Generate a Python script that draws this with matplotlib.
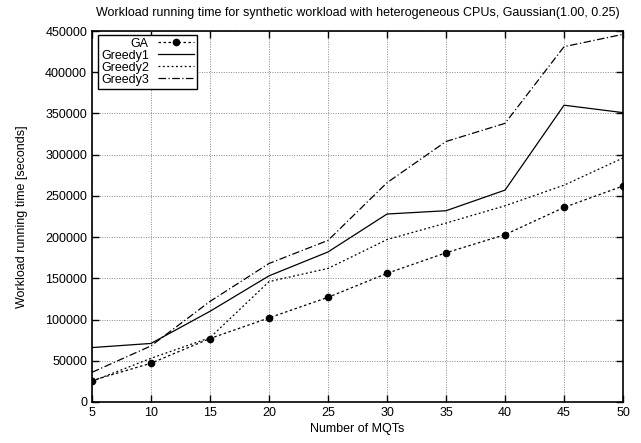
import matplotlib
matplotlib.use("Agg")
import matplotlib.pyplot as plt

mqts = [5, 10, 15, 20, 25, 30, 35, 40, 45, 50]
ga = [26000, 47000, 77000, 102000, 127000, 156000, 181000, 203000, 236000, 262000]
greedy1 = [66000, 71000, 110000, 153000, 182000, 228000, 232000, 257000, 360000, 351000]
greedy2 = [25000, 53000, 78000, 146000, 162000, 197000, 217000, 238000, 263000, 296000]
greedy3 = [36000, 68000, 122000, 168000, 196000, 266000, 316000, 338000, 431000, 446000]

plt.rcParams['font.family'] = ['Liberation Sans', 'DejaVu Sans']
plt.rcParams['font.size'] = 9

fig = plt.figure(figsize=(6.41, 4.43), dpi=100)
ax = fig.add_axes([0.1435, 0.0926, 0.8285, 0.8374])

ax.plot(mqts, ga, color='black', linestyle=(0, (2, 2)), linewidth=0.9,
        marker='o', markersize=4.5, label='GA')
ax.plot(mqts, greedy1, color='black', linestyle='-', linewidth=0.9, label='Greedy1')
ax.plot(mqts, greedy2, color='black', linestyle=(0, (1.5, 2)), linewidth=0.9, label='Greedy2')
ax.plot(mqts, greedy3, color='black', linestyle=(0, (6, 2, 1, 2)), linewidth=0.9, label='Greedy3')

ax.set_xlim(5, 50)
ax.set_ylim(0, 450000)
ax.set_xticks(mqts)
ax.set_yticks(range(0, 450001, 50000))
ax.grid(True, color='#888888', linestyle=(0, (1, 1.5)), linewidth=0.7)
ax.tick_params(direction='in', top=True, right=True, length=5, width=1, labelsize=9)
for s in ax.spines.values():
    s.set_linewidth(1.2)

ax.set_title('Workload running time for synthetic workload with heterogeneous CPUs, Gaussian(1.00, 0.25)',
             fontsize=9, pad=11)
ax.set_xlabel('Number of MQTs', fontsize=9, labelpad=3)
ax.set_ylabel('Workload running time [seconds]', fontsize=9, labelpad=12)

leg = ax.legend(loc='upper left', bbox_to_anchor=(0.011, 0.99), markerfirst=False,
                fancybox=False, framealpha=1, edgecolor='black', borderaxespad=0,
                handlelength=2.9, labelspacing=0.0, borderpad=0.25, handletextpad=0.7,
                fontsize=9)
leg.get_frame().set_linewidth(1.0)
for t in leg.get_texts():
    t.set_ha('right')
leg._legend_box.align = 'right'

fig.savefig('out.png', dpi=100)
